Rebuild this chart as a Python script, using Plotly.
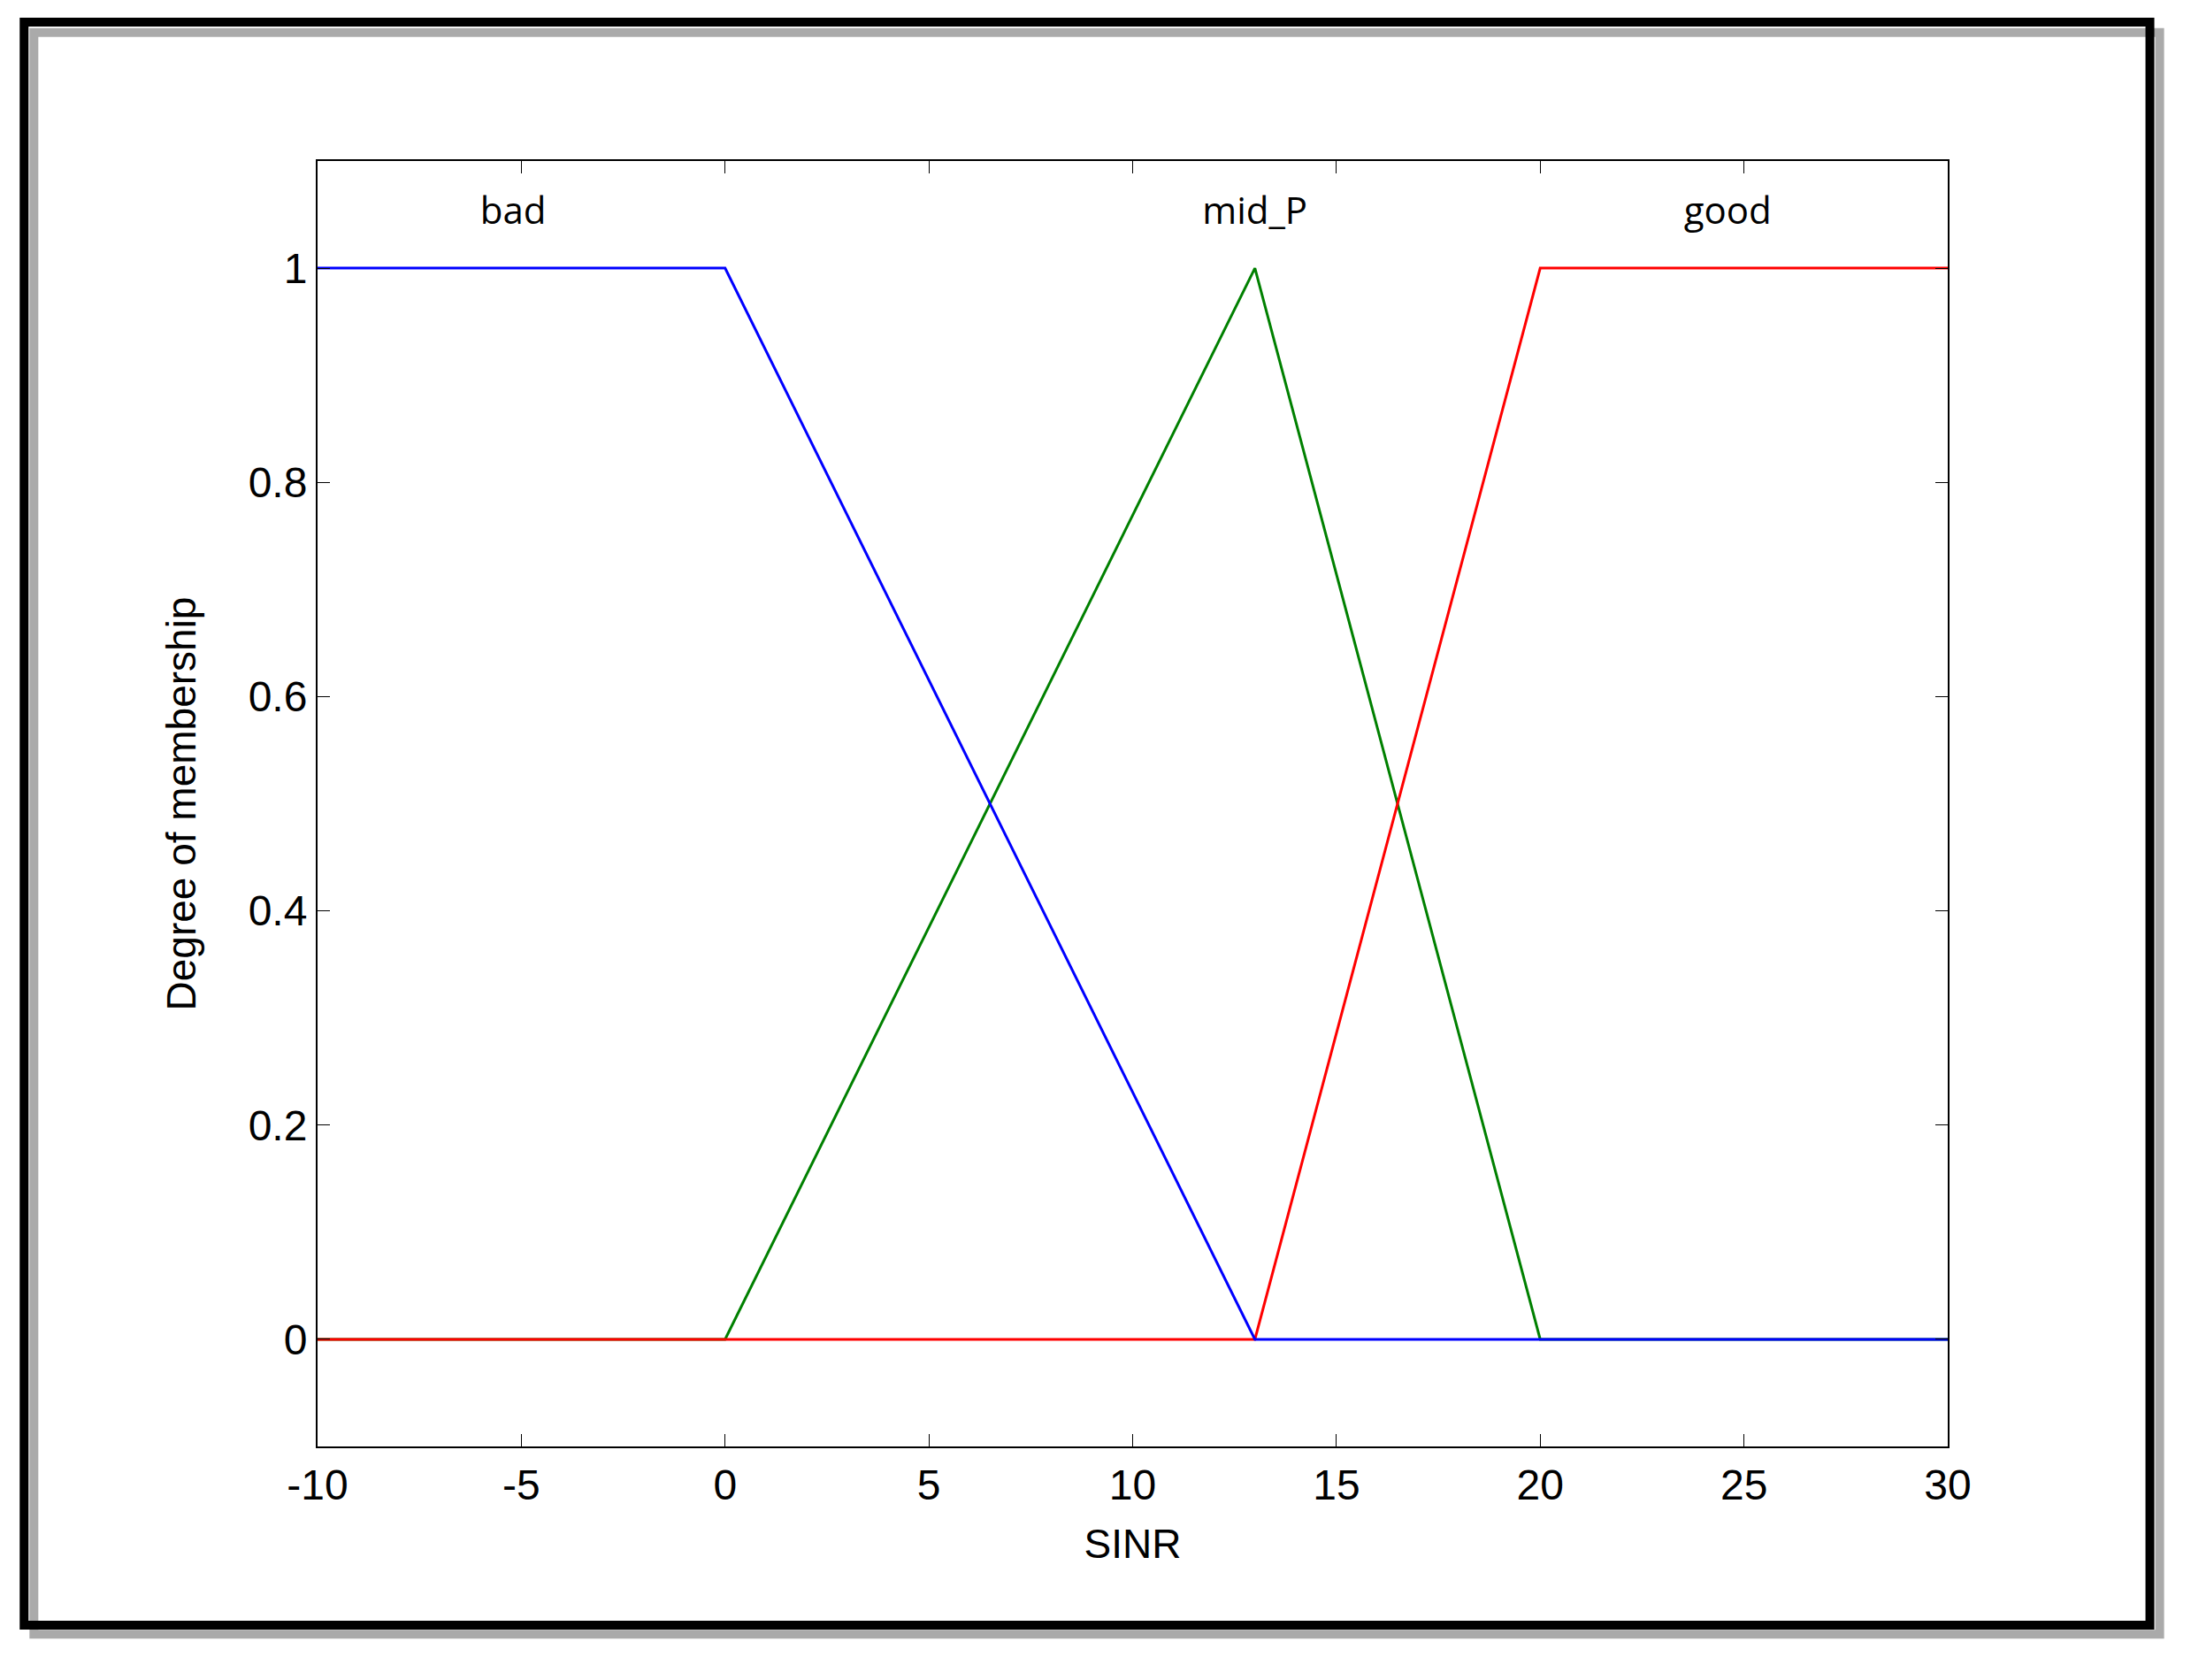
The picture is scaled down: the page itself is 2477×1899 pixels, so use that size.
import plotly.graph_objects as go

x_bad = [-10, 0, 13, 30]
y_bad = [1, 1, 0, 0]
x_mid = [-10, 0, 13, 20, 30]
y_mid = [0, 0, 1, 0, 0]
x_good = [-10, 13, 20, 30]
y_good = [0, 0, 1, 1]
labels = ["bad", "mid_P", "good"]
label_x = [-5.2, 13, 24.6]
label_y = [1.05, 1.05, 1.05]
xticks = [-10, -5, 0, 5, 10, 15, 20, 25, 30]
yticks = [0, 0.2, 0.4, 0.6, 0.8, 1]

fig = go.Figure()
fig.add_trace(go.Scatter(x=x_mid, y=y_mid, mode="lines", line=dict(color="#008000", width=3)))
fig.add_trace(go.Scatter(x=x_good, y=y_good, mode="lines", line=dict(color="#ff0000", width=3)))
fig.add_trace(go.Scatter(x=x_bad, y=y_bad, mode="lines", line=dict(color="#0000ff", width=3)))
fig.add_trace(go.Scatter(x=label_x, y=label_y, mode="text", text=labels,
                         textfont=dict(size=42, family="Open Sans", color="black")))

axis_common = dict(showgrid=False, zeroline=False, showline=True, linecolor="black", linewidth=2,
                   mirror="ticks", ticks="inside", ticklen=14, tickcolor="black",
                   tickfont=dict(size=48, family="Liberation Sans", color="black"))
fig.update_xaxes(range=[-10, 30], tickvals=xticks, ticktext=[str(v) for v in xticks],
                 title=dict(text="SINR", font=dict(size=46, family="Liberation Sans", color="black"), standoff=25),
                 **axis_common)
fig.update_yaxes(range=[-0.1, 1.1], tickvals=yticks, ticktext=["0", "0.2", "0.4", "0.6", "0.8", "1"],
                 title=dict(text="Degree of membership", font=dict(size=46, family="Liberation Sans", color="black"), standoff=45),
                 **axis_common)

fig.add_shape(type="rect", xref="paper", yref="paper", x0=-0.174, x1=1.130, y0=-0.146, y1=1.100,
              line=dict(color="#aaaaaa", width=10), layer="below")
fig.add_shape(type="rect", xref="paper", yref="paper", x0=-0.180, x1=1.124, y0=-0.139, y1=1.108,
              line=dict(color="black", width=10), layer="below")

fig.update_layout(width=2477, height=1899, showlegend=False,
                  margin=dict(l=351, r=283, t=174, b=272),
                  plot_bgcolor="white", paper_bgcolor="white")
fig.write_html("out.html")
